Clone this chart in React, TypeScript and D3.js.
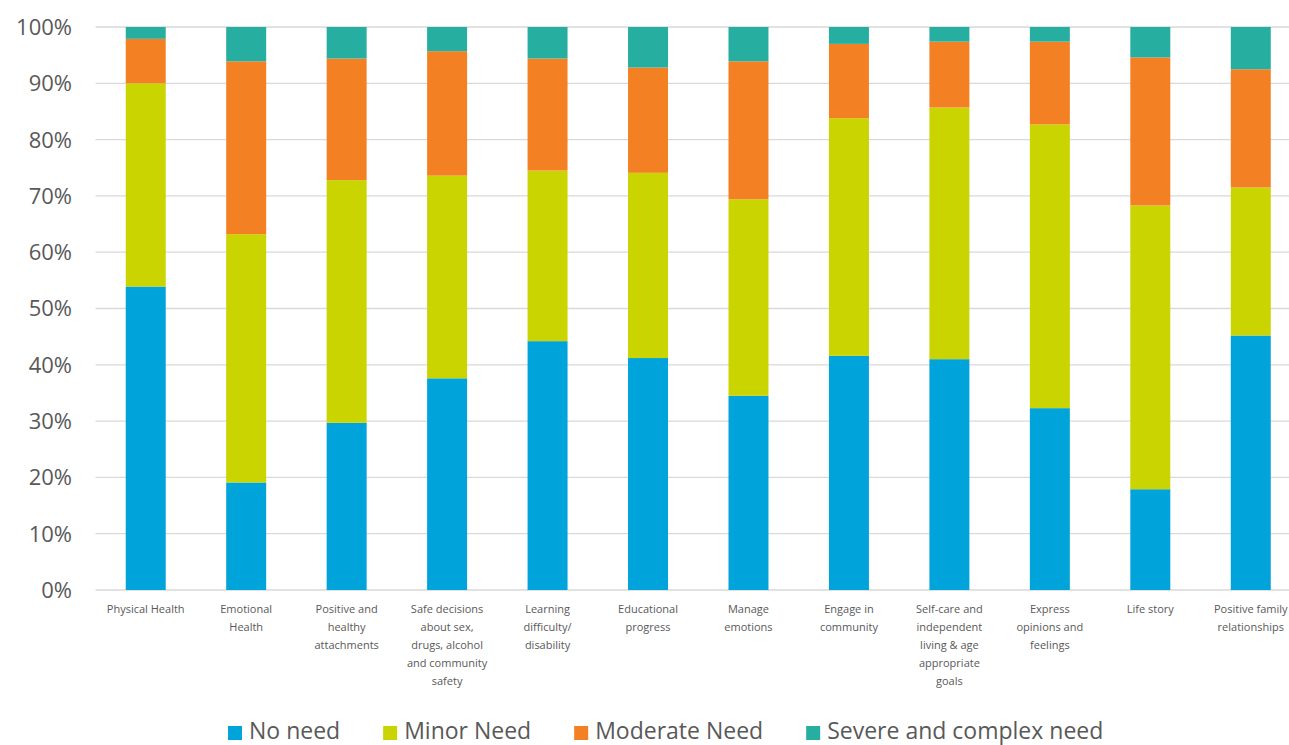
import React, { useEffect, useRef } from "react";
import * as d3 from "d3";

const categories = [
  "Physical Health",
  "Emotional\nHealth",
  "Positive and\nhealthy\nattachments",
  "Safe decisions\nabout sex,\ndrugs, alcohol\nand community\nsafety",
  "Learning\ndifficulty/\ndisability",
  "Educational\nprogress",
  "Manage\nemotions",
  "Engage in\ncommunity",
  "Self-care and\nindependent\nliving & age\nappropriate\ngoals",
  "Express\nopinions and\nfeelings",
  "Life story",
  "Positive family\nrelationships",
];

const seriesNames = ["No need", "Minor Need", "Moderate Need", "Severe and complex need"];
const noNeed = [53.9, 19.1, 29.7, 37.6, 44.2, 41.2, 34.5, 41.6, 41.0, 32.3, 17.9, 45.2];
const minorNeed = [36.1, 44.1, 43.1, 36.0, 30.3, 32.9, 34.9, 42.2, 44.7, 50.4, 50.4, 26.3];
const moderateNeed = [7.9, 30.7, 21.6, 22.1, 19.9, 18.7, 24.5, 13.2, 11.7, 14.7, 26.3, 21.0];
const severeNeed = [2.1, 6.1, 5.6, 4.3, 5.6, 7.2, 6.1, 3.0, 2.6, 2.6, 5.4, 7.5];
const yTicks = [0, 10, 20, 30, 40, 50, 60, 70, 80, 90, 100];
const colors = ["#00A3DA", "#C9D400", "#F48024", "#26AEA0"];

export default function App() {
  const ref = useRef<SVGSVGElement>(null);

  useEffect(() => {
    const svg = d3.select(ref.current);
    svg.selectAll("*").remove();
    const W = 1289;
    const x0 = 95.5, x1 = 1301, yTop = 27, yBot = 590;

    const rows = categories.map((c, i) => ({
      cat: c,
      "No need": noNeed[i],
      "Minor Need": minorNeed[i],
      "Moderate Need": moderateNeed[i],
      "Severe and complex need": severeNeed[i],
    }));
    const stack = d3.stack<any>().keys(seriesNames);
    const stacked = stack(rows);

    const x = d3.scaleBand().domain(categories).range([x0, x1]).paddingInner(0.602).paddingOuter(0.301);
    const y = d3.scaleLinear().domain([0, 100]).range([yBot, yTop]);

    // gridlines
    svg.append("g")
      .selectAll("line")
      .data(yTicks)
      .join("line")
      .attr("x1", x0)
      .attr("x2", W)
      .attr("y1", (d) => y(d))
      .attr("y2", (d) => y(d))
      .attr("stroke", "#d9d9d9")
      .attr("stroke-width", 1.3);

    // y tick labels
    svg.append("g")
      .selectAll("text")
      .data(yTicks)
      .join("text")
      .attr("x", 72)
      .attr("y", (d) => y(d))
      .attr("dy", "0.36em")
      .attr("text-anchor", "end")
      .attr("font-family", "'Open Sans', sans-serif")
      .attr("font-size", 22)
      .attr("fill", "#595959")
      .text((d) => d + "%");

    // bars
    svg.append("g")
      .selectAll("g")
      .data(stacked)
      .join("g")
      .attr("fill", (_d, i) => colors[i])
      .selectAll("rect")
      .data((d) => d)
      .join("rect")
      .attr("x", (d: any) => x(d.data.cat)!)
      .attr("width", x.bandwidth())
      .attr("y", (d: any) => y(Math.min(100, d[1])))
      .attr("height", (d: any) => y(d[0]) - y(Math.min(100, d[1])));

    // category labels
    const lab = svg.append("g")
      .attr("font-family", "'Open Sans', sans-serif")
      .attr("font-size", 11)
      .attr("fill", "#595959")
      .attr("text-anchor", "middle");
    categories.forEach((c) => {
      const cx = x(c)! + x.bandwidth() / 2;
      const t = lab.append("text").attr("x", cx).attr("y", 613);
      c.split("\n").forEach((line, li) => {
        t.append("tspan").attr("x", cx).attr("dy", li === 0 ? 0 : 18).text(line);
      });
    });

    // legend
    const leg = svg.append("g");
    let lx = 228;
    seriesNames.forEach((name, i) => {
      leg.append("rect").attr("x", lx).attr("y", 726).attr("width", 14).attr("height", 14).attr("fill", colors[i]);
      const t = leg.append("text")
        .attr("x", lx + 21)
        .attr("y", 738.5)
        .attr("font-family", "'Open Sans', sans-serif")
        .attr("font-size", 23)
        .attr("fill", "#595959")
        .text(name);
      const w = (t.node() as SVGTextElement).getComputedTextLength();
      lx = lx + 21 + w + 43;
    });
  }, []);

  return (
    <svg
      ref={ref}
      width={1289}
      height={745}
      style={{ position: "absolute", left: 0, top: 0, background: "#fff", display: "block" }}
    />
  );
}
